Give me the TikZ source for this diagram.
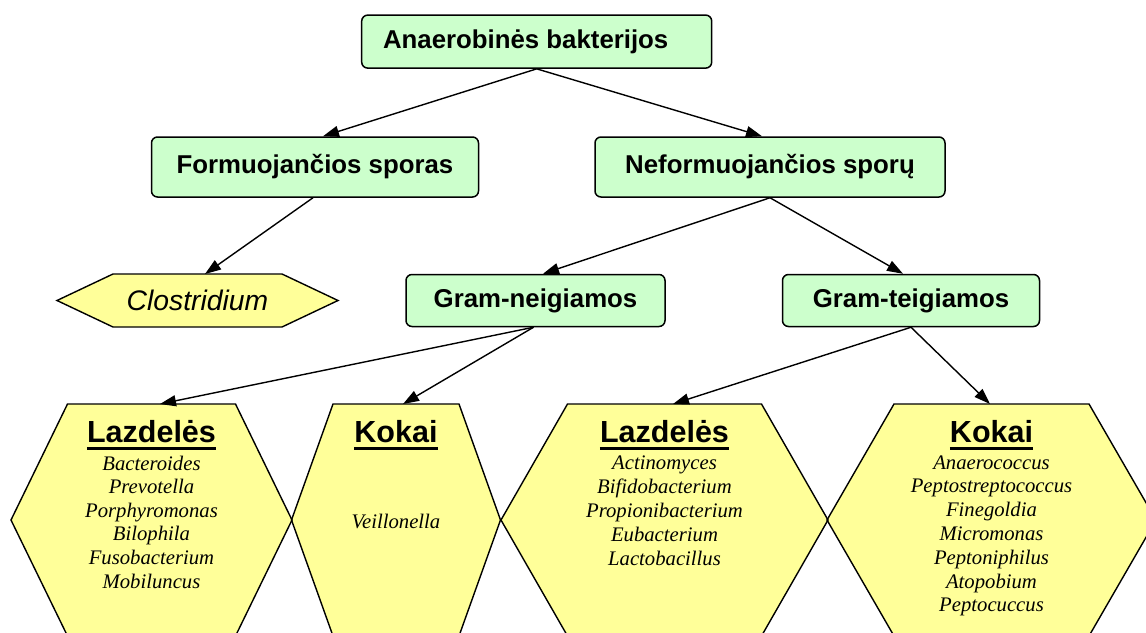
\documentclass[tikz,border=0pt]{standalone}
\usepackage{fontspec}
\setmainfont{Liberation Serif}
\setsansfont{Liberation Sans}
\usetikzlibrary{arrows.meta}
\definecolor{boxgreen}{HTML}{CCFFCC}
\definecolor{hexyellow}{HTML}{FFFF99}
\newcommand\hexshape[2]{([xshift=-#2pt]#1.north) -- ([xshift=#2pt]#1.north) -- (#1.east) -- ([xshift=#2pt]#1.south) -- ([xshift=-#2pt]#1.south) -- (#1.west) -- cycle}
\tikzset{
  greenbox/.style={draw, fill=boxgreen, rounded corners=6pt, line width=1.5pt, inner sep=0pt,
    font=\sffamily\bfseries\fontsize{25.8}{30}\selectfont},
  hexframe/.style={inner sep=0pt, outer sep=0pt},
  hexline/.style={draw=black, line width=1.4pt, line join=miter},
  arr/.style={-{Triangle[length=16pt,width=11pt]}, line width=1.4pt},
  hextitle/.style={anchor=base, inner sep=0pt, font=\sffamily\bfseries\fontsize{30.5}{34}\selectfont},
  species/.style={anchor=base, inner sep=0pt, font=\itshape\fontsize{20.7}{24}\selectfont},
  uline/.style={line width=2.8pt}
}
\begin{document}
\begin{tikzpicture}[x=1pt,y=-1pt]
\clip (0,0) rectangle (1146,632);
\fill[white] (0,0) rectangle (1146,632);

% green boxes
\node[greenbox, minimum width=350pt, minimum height=53pt] (top) at (536.7,41.6) {Anaerobinės bakterijos\hspace{22pt}\null};
\node[greenbox, minimum width=327pt, minimum height=60pt] (form) at (315,167) {Formuojančios sporas};
\node[greenbox, minimum width=350pt, minimum height=60pt] (neform) at (770,167) {Neformuojančios sporų};
\node[greenbox, minimum width=259pt, minimum height=52pt] (gn) at (535.5,300.5) {Gram-neigiamos};
\node[greenbox, minimum width=257pt, minimum height=52pt] (gt) at (911,300.5) {Gram-teigiamos};

% hexagon frames
\node[hexframe, minimum width=281pt, minimum height=53pt] (clos) at (197.5,300.5) {};
\node[hexframe, minimum width=281pt, minimum height=232pt] (L1) at (151.5,520) {};
\node[hexframe, minimum width=209pt, minimum height=232pt] (K1) at (396,520) {};
\node[hexframe, minimum width=327pt, minimum height=232pt] (L2) at (664.5,520) {};
\node[hexframe, minimum width=329pt, minimum height=232pt] (K2) at (991.5,520) {};

\fill[hexyellow] \hexshape{clos}{84.5};
\fill[hexyellow] \hexshape{L1}{84};
\fill[hexyellow] \hexshape{K1}{63};
\fill[hexyellow] \hexshape{L2}{97};
\fill[hexyellow] \hexshape{K2}{97.5};
\draw[hexline] \hexshape{clos}{84.5};
\draw[hexline] \hexshape{L1}{84};
\draw[hexline] \hexshape{K1}{63};
\draw[hexline] \hexshape{L2}{97};
\draw[hexline] \hexshape{K2}{97.5};

\node[font=\sffamily\itshape\fontsize{28.3}{32}\selectfont, inner sep=0pt] (clostxt) at (clos.center) {Clostridium};

% titles
\node[hextitle] (t1) at (151.5,442) {Lazdelės};
\node[hextitle] (t2) at (396,442) {Kokai};
\node[hextitle] (t3) at (664.5,442) {Lazdelės};
\node[hextitle] (t4) at (991.5,442) {Kokai};
\foreach \t in {t1,t2,t3,t4}
  \draw[uline] ([yshift=-6.5pt]\t.base west) -- ([yshift=-6.5pt]\t.base east);

% species
\foreach \s [count=\i] in {Bacteroides,Prevotella,Porphyromonas,Bilophila,Fusobacterium,Mobiluncus}
  \node[species] (sa\i) at (151.5,{470+23.6*(\i-1)}) {\s};
\node[species] (sb1) at (396,528) {Veillonella};
\foreach \s [count=\i] in {Actinomyces,Bifidobacterium,Propionibacterium,Eubacterium,Lactobacillus}
  \node[species] (sc\i) at (664.5,{469+24*(\i-1)}) {\s};
\foreach \s [count=\i] in {Anaerococcus,Peptostreptococcus,Finegoldia,Micromonas,Peptoniphilus,Atopobium,Peptocuccus}
  \node[species] (sd\i) at (991.5,{469+23.8*(\i-1)}) {\s};

% connectors
\draw[arr] (top.south) -- ([xshift=8pt]form.north);
\draw[arr] (top.south) -- ([xshift=-8pt]neform.north);
\draw[arr] ([xshift=-2pt]form.south) -- ([xshift=7.5pt]clos.north);
\draw[arr] (neform.south) -- ([xshift=7.5pt]gn.north);
\draw[arr] (neform.south) -- ([xshift=-8pt]gt.north);
\draw[arr] ([xshift=-2pt]gn.south) -- ([xshift=8.5pt]L1.north);
\draw[arr] ([xshift=-2pt]gn.south) -- ([xshift=7pt]K1.north);
\draw[arr] (gt.south) -- ([xshift=8.5pt]L2.north);
\draw[arr] (gt.south) -- ([xshift=-1.5pt]K2.north);
\end{tikzpicture}
\end{document}
